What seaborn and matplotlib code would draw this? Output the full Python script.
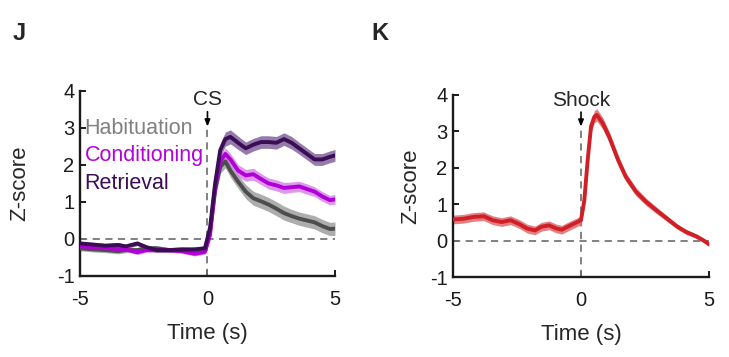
import matplotlib
matplotlib.use("Agg")
import matplotlib.pyplot as plt
import seaborn as sns
import numpy as np
import pandas as pd

sns.set_theme(style="ticks")
plt.rcParams['font.family'] = ['Liberation Sans', 'DejaVu Sans']
plt.rcParams['axes.unicode_minus'] = False

# ---------------- Panel J data ----------------
t_J = [-5, -4.5, -4, -3.5, -3.2, -2.75, -2.4, -2, -1.5, -1, -0.5, -0.1, 0.1, 0.3, 0.5,
       0.7, 0.9, 1.2, 1.5, 1.8, 2.1, 2.4, 2.7, 3.0, 3.3, 3.6, 3.9, 4.2, 4.5, 4.8, 5.0]
habituation = [-0.25, -0.28, -0.30, -0.33, -0.30, -0.30, -0.25, -0.25, -0.30, -0.28, -0.30, -0.30,
               0.20, 1.30, 1.95, 2.10, 1.85, 1.55, 1.28, 1.10, 1.02, 0.93, 0.82, 0.70, 0.62,
               0.55, 0.50, 0.45, 0.35, 0.27, 0.28]
conditioning = [-0.20, -0.22, -0.25, -0.27, -0.28, -0.36, -0.30, -0.30, -0.30, -0.33, -0.40, -0.35,
                0.10, 1.40, 2.10, 2.30, 2.15, 1.85, 1.72, 1.75, 1.62, 1.50, 1.45, 1.38, 1.40,
                1.42, 1.35, 1.28, 1.15, 1.05, 1.07]
retrieval = [-0.12, -0.15, -0.18, -0.16, -0.20, -0.12, -0.22, -0.30, -0.30, -0.29, -0.28, -0.25,
             0.30, 1.50, 2.40, 2.70, 2.76, 2.60, 2.45, 2.55, 2.62, 2.62, 2.60, 2.70, 2.60,
             2.45, 2.30, 2.15, 2.15, 2.22, 2.26]
sem_hab = [0.07] * 12 + [0.12, 0.15, 0.17, 0.18, 0.18, 0.18, 0.19, 0.19, 0.19, 0.19, 0.19, 0.19,
                         0.18, 0.18, 0.18, 0.18, 0.18, 0.18, 0.18]
sem_con = [0.06] * 12 + [0.10, 0.12, 0.15, 0.16, 0.16, 0.16, 0.16, 0.16, 0.15, 0.15, 0.15, 0.15,
                         0.14, 0.14, 0.14, 0.13, 0.13, 0.13, 0.13]
sem_ret = [0.06] * 12 + [0.12, 0.16, 0.18, 0.19, 0.19, 0.18, 0.17, 0.17, 0.17, 0.17, 0.17, 0.17,
                         0.17, 0.16, 0.16, 0.16, 0.16, 0.16, 0.16]
labels_J = ["Habituation", "Conditioning", "Retrieval"]

# ---------------- Panel K data ----------------
t_K = [-5, -4.6, -4.2, -3.8, -3.45, -3.1, -2.75, -2.4, -2.1, -1.8, -1.55, -1.25, -0.95, -0.75,
       -0.5, -0.2, 0, 0.13, 0.26, 0.39, 0.52, 0.62, 0.85, 1.1, 1.45, 1.75, 2.15, 2.55, 2.95,
       3.35, 3.75, 4.1, 4.5, 4.8, 5.0]
shock = [0.58, 0.60, 0.65, 0.67, 0.56, 0.51, 0.56, 0.45, 0.33, 0.28, 0.38, 0.42, 0.33, 0.30,
         0.39, 0.49, 0.56, 1.11, 2.21, 3.13, 3.40, 3.45, 3.22, 2.85, 2.21, 1.75, 1.34, 1.06, 0.83,
         0.61, 0.39, 0.24, 0.12, 0.00, -0.10]
sem_shock = [0.12] * 17 + [0.14, 0.16, 0.17, 0.17, 0.17, 0.16, 0.15, 0.14, 0.12, 0.11, 0.10,
                           0.09, 0.08, 0.07, 0.07, 0.06, 0.06, 0.06]

x_ticks = [-5, 0, 5]
y_ticks = [-1, 0, 1, 2, 3, 4]

colors_J = {"Habituation": ("#4d4d4d", "#999999", "#808080"),
            "Conditioning": ("#b000d6", "#d57fea", "#b300dc"),
            "Retrieval": ("#3b0d55", "#7a5a96", "#3b0d55")}
red_line, red_band = "#d01f26", "#dd6a6e"

fig = plt.figure(figsize=(7.29, 3.57), dpi=100)
axJ = fig.add_axes([0.1097, 0.2269, 0.3498, 0.5182])
axK = fig.add_axes([0.6214, 0.2240, 0.3512, 0.5100])

dfJ = pd.DataFrame({"t": t_J * 3,
                    "z": habituation + conditioning + retrieval,
                    "err": sem_hab + sem_con + sem_ret,
                    "session": [l for l in labels_J for _ in t_J]})
dfK = pd.DataFrame({"t": t_K, "z": shock, "err": sem_shock})

FS_TICK, FS_LAB = 14.5, 16
ARROW = dict(arrowstyle="-|>,head_length=0.32,head_width=0.13", color="black", lw=1.2,
             shrinkA=0, shrinkB=0)

def style_axis(ax):
    ax.set_xlim(-5, 5)
    ax.set_ylim(-1, 4)
    ax.set_xticks(x_ticks)
    ax.set_yticks(y_ticks)
    for s in ["top", "right"]:
        ax.spines[s].set_visible(False)
    for s in ["left", "bottom"]:
        ax.spines[s].set_linewidth(1.7)
        ax.spines[s].set_color("#1a1a1a")
    ax.tick_params(direction="in", length=4, width=1.4, labelsize=FS_TICK, colors="#1a1a1a")
    ax.tick_params(axis="x", pad=10)
    ax.tick_params(axis="y", pad=4)
    ax.axhline(0, color="#777777", lw=1.3, ls=(0, (4, 3)), zorder=1)

# Panel J
style_axis(axJ)
axJ.plot([0, 0], [-1, 3.0], color="#777777", lw=1.3, ls=(0, (4, 3)), zorder=1)
for lab in labels_J:
    d = dfJ[dfJ.session == lab]
    line_c, band_c, _ = colors_J[lab]
    axJ.fill_between(d["t"], d["z"] - d["err"], d["z"] + d["err"], color=band_c, alpha=0.8,
                     lw=0, zorder=2)
for lab in labels_J:
    line_c, band_c, _ = colors_J[lab]
    sns.lineplot(data=dfJ[dfJ.session == lab], x="t", y="z", ax=axJ, color=line_c,
                 lw=2.8, legend=False, zorder=3)
axJ.set_xlabel("Time (s)", fontsize=FS_LAB, labelpad=10)
axJ.set_ylabel("Z-score", fontsize=FS_LAB, labelpad=19)
for lab, yv in zip(labels_J, [2.99, 2.26, 1.5]):
    axJ.text(-4.82, yv, lab, color=colors_J[lab][2], fontsize=15.5, va="center", ha="left", zorder=4)
axJ.annotate("", xy=(0, 3.04), xytext=(0, 3.44), arrowprops=ARROW, annotation_clip=False)
axJ.text(0, 3.5, "CS", ha="center", va="bottom", fontsize=15)

# Panel K
style_axis(axK)
axK.plot([0, 0], [-1, 3.1], color="#777777", lw=1.3, ls=(0, (4, 3)), zorder=1)
axK.fill_between(dfK["t"], dfK["z"] - dfK["err"], dfK["z"] + dfK["err"], color=red_band,
                 alpha=0.85, lw=0, zorder=2)
sns.lineplot(data=dfK, x="t", y="z", ax=axK, color=red_line, lw=2.8, legend=False, zorder=3)
axK.set_xlabel("Time (s)", fontsize=FS_LAB, labelpad=10)
axK.set_ylabel("Z-score", fontsize=FS_LAB, labelpad=6)
axK.annotate("", xy=(0, 3.13), xytext=(0, 3.53), arrowprops=ARROW, annotation_clip=False)
axK.text(0, 3.6, "Shock", ha="center", va="bottom", fontsize=15)

fig.text(13 / 729, 1 - 33 / 357, "J", fontsize=17, fontweight="bold", va="center", ha="left")
fig.text(371 / 729, 1 - 33 / 357, "K", fontsize=17, fontweight="bold", va="center", ha="left")

fig.savefig("out.png", dpi=100, facecolor="white")
